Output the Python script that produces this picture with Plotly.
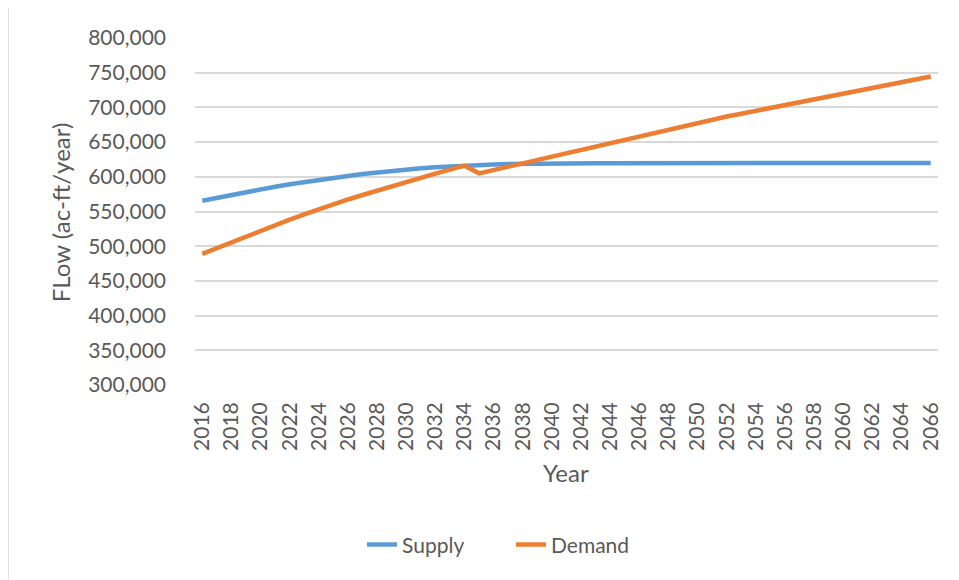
import plotly.graph_objects as go

years = list(range(2016, 2067))

supply = [565500, 569800, 574000, 578100, 582000, 585700, 589200, 592500, 595600, 598500,
          601300, 603900, 606300, 608500, 610500, 612300, 613900, 615200, 616300, 617200,
          617900, 618500, 618900, 619200, 619400, 619500, 619600, 619600, 619700, 619700,
          619700, 619800, 619800, 619800, 619800, 619800, 619800, 619800, 619800, 619800,
          619800, 619800, 619800, 619800, 619800, 619800, 619800, 619800, 619800, 619800,
          619800]

demand = [489000, 497500, 506000, 514300, 522500, 530500, 538300, 546000, 553400, 560500,
          567300, 573800, 580200, 586500, 592600, 598600, 604500, 610300, 616000, 605000,
          609800, 614600, 619400, 624200, 629000, 633900, 638800, 643700, 648600, 653500,
          658500, 663500, 668500, 673500, 678500, 682600, 686800, 690900, 695000, 699100,
          703300, 707400, 711500, 715600, 719800, 723900, 728000, 732100, 736300, 740400,
          744500]

tick_years = list(range(2016, 2067, 2))
y_ticks = list(range(300000, 800001, 50000))

FONT = "Lato"
TXT = "#595959"
GRID = "#d9d9d9"

fig = go.Figure()
fig.add_trace(go.Scatter(x=years, y=supply, mode="lines", name="Supply",
                         line=dict(color="#5B9BD5", width=4.5)))
fig.add_trace(go.Scatter(x=years, y=demand, mode="lines", name="Demand",
                         line=dict(color="#ED7D31", width=4.5)))

OFF = 8  # page body margin
W, H = 959 - OFF, 580 - OFF
L, R, T, B = 195 - OFF, 959 - 938, 37.6 - OFF, 580 - 385
pw, ph = W - L - R, H - T - B

def px_x(p):  # screen px -> paper
    return (p - OFF - L) / pw

def px_y(p):
    return (H - B - (p - OFF)) / ph

fig.update_layout(
    width=W, height=H,
    margin=dict(l=L, r=R, t=T, b=B),
    paper_bgcolor="white", plot_bgcolor="white",
    font=dict(family=FONT, color=TXT, size=21),
    showlegend=True,
    legend=dict(orientation="h", x=px_x(362), y=px_y(545), xanchor="left", yanchor="middle",
                entrywidth=104, entrywidthmode="pixels",
                font=dict(size=21, color=TXT), bgcolor="rgba(0,0,0,0)"),
    xaxis=dict(range=[2015.5, 2066.5], tickmode="array", tickvals=tick_years,
               ticktext=[str(t) for t in tick_years], tickangle=-90,
               showgrid=False, zeroline=False, showline=False, ticks="",
               ticklabelstandoff=12, tickfont=dict(size=21, color=TXT)),
    yaxis=dict(range=[300000, 800000], tickmode="array", tickvals=y_ticks,
               ticktext=[f"{v:,}" for v in y_ticks], showgrid=True, gridcolor=GRID,
               gridwidth=1.5, zeroline=False, showline=False, ticks="",
               ticklabelstandoff=28, tickfont=dict(size=21, color=TXT)),
    annotations=[
        dict(text="FLow (ac-ft/year)", xref="paper", yref="paper", x=px_x(60), y=px_y(212),
             textangle=-90, showarrow=False, font=dict(size=24, color=TXT),
             xanchor="center", yanchor="middle"),
        dict(text="Year", xref="paper", yref="paper", x=px_x(566), y=px_y(473),
             showarrow=False, font=dict(size=24, color=TXT),
             xanchor="center", yanchor="middle"),
    ],
    shapes=[
        dict(type="line", xref="paper", yref="paper", x0=px_x(8), x1=px_x(8),
             y0=px_y(0), y1=px_y(580), line=dict(color=GRID, width=1.5)),
    ],
)

fig.write_html("out.html")
